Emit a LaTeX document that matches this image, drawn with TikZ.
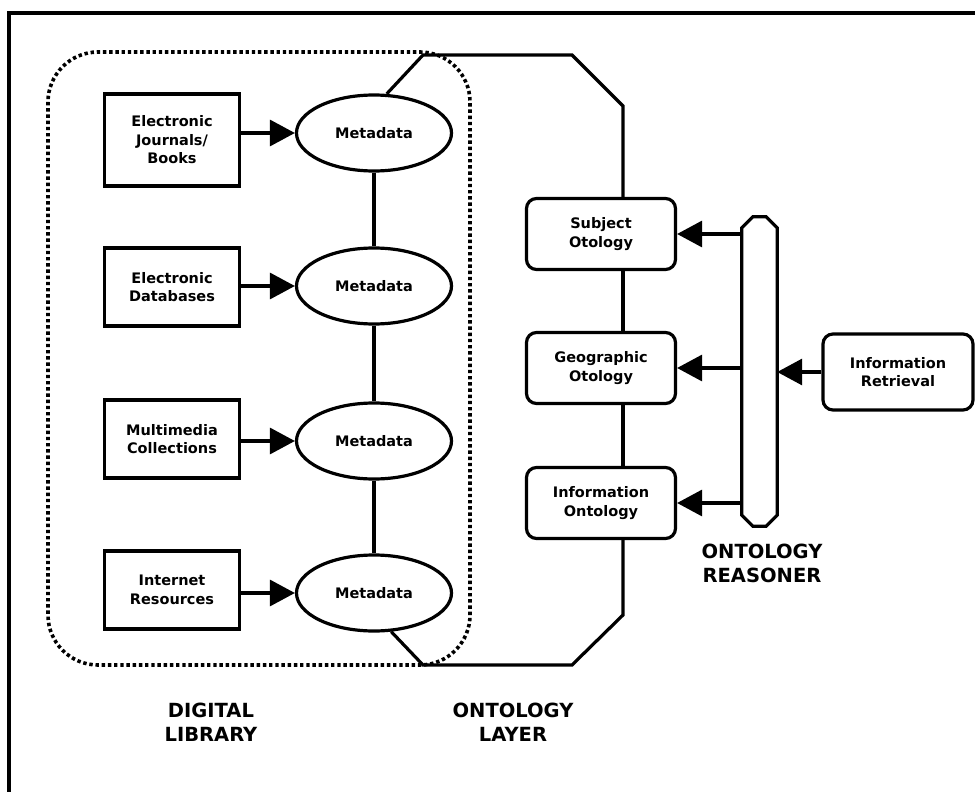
\documentclass[tikz,border=0pt]{standalone}
\usepackage{fontspec}
\setmainfont{DejaVu Sans}
\usetikzlibrary{arrows.meta}
\usetikzlibrary{shapes.geometric}

\begin{document}
\begin{tikzpicture}[x=1pt,y=-1pt,
    every node/.style={font=\fontsize{14.5}{18.5}\selectfont\bfseries,align=center},
    src/.style={draw,line width=3.2pt,minimum width=135pt,minimum height=78pt,inner sep=0pt},
    meta/.style={draw,ellipse,line width=3.2pt,minimum width=155pt,minimum height=76pt,inner sep=0pt},
    onto/.style={draw,rounded corners=10pt,line width=3.2pt,minimum width=149pt,minimum height=71pt,inner sep=0pt},
    big/.style={font=\fontsize{19.5}{24}\selectfont\bfseries},
    link/.style={line width=3.2pt},
    arr/.style={line width=3.2pt,-{Triangle[length=25pt,width=26pt]}}]
    \useasboundingbox (0,0) rectangle (975,792);
    \clip (0,0) rectangle (975,792);
    \draw[line width=4pt] (9,800) -- (9,13) -- (985,13);
    \draw[line width=3.6pt,dash pattern=on 3.4pt off 2.8pt,rounded corners=50pt]
      (48,52) rectangle (470,665);
    \node[src,minimum height=92pt] (jrnl) at (172,140) {Electronic\\Journals/\\Books};
    \node[src] (edb) at (172,287) {Electronic\\Databases};
    \node[src] (mmc) at (172,439) {Multimedia\\Collections};
    \node[src] (inet) at (172,590) {Internet\\Resources};
    \node[meta] (md1) at (374,133) {Metadata};
    \node[meta] (md2) at (374,286) {Metadata};
    \node[meta] (md3) at (374,441) {Metadata};
    \node[meta] (md4) at (374,593) {Metadata};
    \node[onto] (subj) at (601,234) {Subject\\Otology};
    \node[onto] (geo) at (601,368) {Geographic\\Otology};
    \node[onto] (info) at (601,503) {Information\\Ontology};
    \node[minimum width=35pt,minimum height=309pt,inner sep=0pt] (rsn) at (759.5,371.5) {};
    \draw[link] ([yshift=-11pt]rsn.north west) -- ([xshift=11pt]rsn.north west)
      -- ([xshift=-11pt]rsn.north east) -- ([yshift=-11pt]rsn.north east)
      -- ([yshift=11pt]rsn.south east) -- ([xshift=-11pt]rsn.south east)
      -- ([xshift=11pt]rsn.south west) -- ([yshift=11pt]rsn.south west) -- cycle;
    \node[onto,minimum width=150pt,minimum height=76pt] (ir) at (898,372) {Information\\Retrieval};
    \node[big] (dl) at (211,722) {DIGITAL\\LIBRARY};
    \node[big] (ol) at (513,722) {ONTOLOGY\\LAYER};
    \node[big] (orl) at (762,563) {ONTOLOGY\\REASONER};
    \coordinate (tl) at (423,55);
    \coordinate (tr) at (572,55);
    \coordinate (rt) at (623,106);
    \coordinate (rb) at (623,615);
    \coordinate (br) at (572,665);
    \coordinate (bl) at (423,665);
    \draw[link] (md1.72) -- (tl) -- (tr) -- (rt) -- (rt |- subj.north);
    \draw[link] (subj.south -| rt) -- (geo.north -| rt);
    \draw[link] (geo.south -| rt) -- (info.north -| rt);
    \draw[link] (info.south -| rt) -- (rb) -- (br) -- (bl) -- (md4.-66);
    \draw[link] (md1.south) -- (md2.north);
    \draw[link] (md2.south) -- (md3.north);
    \draw[link] (md3.south) -- (md4.north);
    \draw[arr] (jrnl.east |- md1) -- (md1.west);
    \draw[arr] (edb.east |- md2) -- (md2.west);
    \draw[arr] (mmc.east |- md3) -- (md3.west);
    \draw[arr] (inet.east |- md4) -- (md4.west);
    \draw[arr] (rsn.west |- subj) -- (subj.east);
    \draw[arr] (rsn.west |- geo) -- (geo.east);
    \draw[arr] (rsn.west |- info) -- (info.east);
    \draw[arr] (ir.west) -- (ir.west -| rsn.east);
\end{tikzpicture}
\end{document}
